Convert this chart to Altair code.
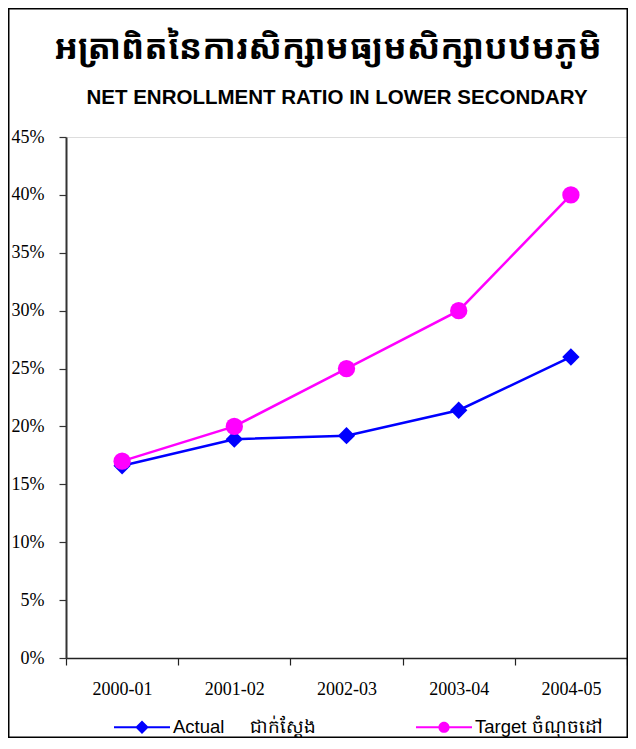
import altair as alt
import pandas as pd

years = ["2000-01", "2001-02", "2002-03", "2003-04", "2004-05"]
actual = [16.6, 18.9, 19.2, 21.4, 26.0]
target = [17.0, 20.0, 25.0, 30.0, 40.0]
series_names = ["Actual\u00a0\u00a0\u00a0\u00a0\u00a0ជាក់ស្តែង", "Target ចំណុចដៅ"]
series_colors = ["#0000FF", "#FF00FF"]
series_shapes = ["diamond", "circle"]
legend_shapes = [
    "M-1,-0.04H1V0.04H-1ZM-0.24,0L0,-0.24L0.24,0L0,0.24Z",
    "M-1,-0.04H1V0.04H-1ZM0.2,0A0.2,0.2 0 1,1 -0.2,0A0.2,0.2 0 1,1 0.2,0Z",
]
y_ticks = [0, 0.05, 0.10, 0.15, 0.20, 0.25, 0.30, 0.35, 0.40, 0.45]
title_km = "អត្រាពិតនៃការសិក្សាមធ្យមសិក្សាបឋមភូមិ"
subtitle_en = "NET ENROLLMENT RATIO IN LOWER SECONDARY"

rows = []
for name, vals in zip(series_names, [actual, target]):
    for yr, v in zip(years, vals):
        rows.append({"year": yr, "series": name, "value": v / 100})
df = pd.DataFrame(rows)

PW, PH = 561, 521
PAD_L, PAD_T, PAD_R, PAD_B = 58, 129, 1, 80
W = PAD_L + PW + PAD_R
H = PAD_T + PH + PAD_B

x_enc = alt.X(
    "year:N", sort=years, bandPosition=0.5,
    scale=alt.Scale(type="band", paddingInner=0, paddingOuter=0),
    axis=alt.Axis(title=None, labelAngle=0, tickBand="extent", tickSize=7,
                  labelPadding=15, labelFont="Liberation Serif", labelFontSize=18,
                  labelColor="black", domainColor="#222222", tickColor="#222222",
                  domainWidth=1.5, tickWidth=1.2, grid=False),
)
y_enc = alt.Y(
    "value:Q", scale=alt.Scale(domain=[0, 0.45], nice=False, zero=True),
    axis=alt.Axis(title=None, values=y_ticks, format=".0%", tickSize=7,
                  labelPadding=15, labelFont="Liberation Serif", labelFontSize=18,
                  labelColor="black", domainColor="#333333", tickColor="#333333",
                  domainWidth=2, tickWidth=1.2, grid=False),
)

legend = alt.Legend(
    title=None, orient="none", legendX=48, legendY=562, direction="horizontal",
    symbolSize=3136, symbolStrokeWidth=0, symbolOpacity=1, labelFont="Liberation Sans",
    labelFontSize=18.5, labelColor="black", labelOffset=3, columnPadding=99,
    padding=0, labelLimit=400,
)

color_enc = alt.Color("series:N", scale=alt.Scale(domain=series_names, range=series_colors),
                      legend=None)

lines = alt.Chart(df).mark_line(strokeWidth=2.5).encode(
    x=x_enc, y=y_enc, color=color_enc, detail="series:N")
points = alt.Chart(df).mark_point(filled=True, opacity=1, size=300).encode(
    x=x_enc, y=y_enc, color=color_enc,
    shape=alt.Shape("series:N", scale=alt.Scale(domain=series_names, range=series_shapes),
                    legend=None),
)
legend_layer = alt.Chart(df).mark_point(filled=True, opacity=1).encode(
    x=x_enc, y=y_enc,
    color=alt.Color("series:N", scale=alt.Scale(domain=series_names, range=series_colors),
                    legend=legend),
    shape=alt.Shape("series:N", scale=alt.Scale(domain=series_names, range=legend_shapes),
                    legend=legend),
).transform_filter(alt.datum.value < 0)

one = pd.DataFrame({"k": [0]})
frame = alt.Chart(one).mark_rect(fill=None, stroke="black", strokeWidth=1.5, clip=False).encode(
    x=alt.value(-PAD_L + 0.75), x2=alt.value(W - PAD_L - 0.75),
    y=alt.value(-PAD_T + 0.75), y2=alt.value(H - PAD_T - 0.75),
)
title_mark = alt.Chart(one).mark_text(
    font="Noto Sans Khmer, Noto Serif Khmer, Khmer OS, sans-serif", fontSize=34.5,
    fontWeight="bold", color="black", align="center", baseline="middle", clip=False,
).encode(x=alt.value(262), y=alt.value(-88), text=alt.value(title_km))
subtitle_mark = alt.Chart(one).mark_text(
    font="Liberation Sans", fontSize=20.5, fontWeight="bold", color="black",
    align="center", baseline="middle", clip=False,
).encode(x=alt.value(271), y=alt.value(-39), text=alt.value(subtitle_en))

chart = alt.layer(lines, points, legend_layer, frame, title_mark, subtitle_mark).resolve_scale(
    shape="independent", color="independent"
).properties(
    width=PW, height=PH,
    autosize=alt.AutoSizeParams(type="none"),
    padding={"left": PAD_L, "top": PAD_T, "right": PAD_R, "bottom": PAD_B},
).configure_view(stroke="#808080", strokeWidth=2).configure(background="white")

chart.save("out.html", embed_options={"renderer": "svg", "actions": False})
